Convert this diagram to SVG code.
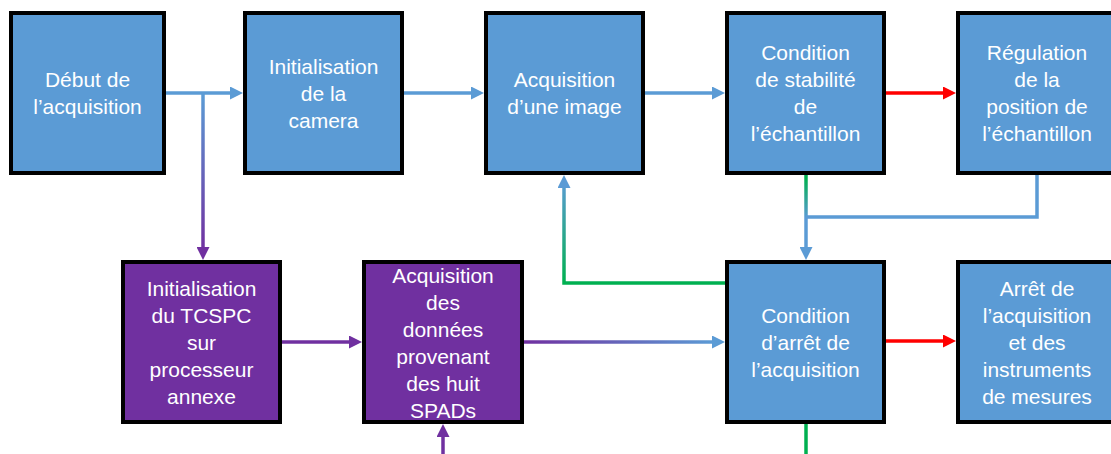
<svg xmlns="http://www.w3.org/2000/svg" width="1111" height="454" viewBox="0 0 1111 454">
<style>
.blue{fill:#5B9BD5;stroke:#000;stroke-width:4}
.purple{fill:#7030A0;stroke:#000;stroke-width:4}
text{font-family:"Liberation Sans",Arial,sans-serif;font-size:21px;fill:#fff;text-anchor:middle}
.c{fill:none;stroke-width:3.5}
</style>
<defs>
<marker id="aB" viewBox="0 0 13 13" refX="1" refY="6.5" markerWidth="13" markerHeight="13" markerUnits="userSpaceOnUse" orient="auto"><path d="M0,0L13,6.5L0,13z" fill="#5B9BD5"/></marker>
<marker id="aP" viewBox="0 0 13 13" refX="1" refY="6.5" markerWidth="13" markerHeight="13" markerUnits="userSpaceOnUse" orient="auto"><path d="M0,0L13,6.5L0,13z" fill="#7030A0"/></marker>
<marker id="aR" viewBox="0 0 13 13" refX="1" refY="6.5" markerWidth="13" markerHeight="13" markerUnits="userSpaceOnUse" orient="auto"><path d="M0,0L13,6.5L0,13z" fill="#FF0000"/></marker>
<linearGradient id="gBP" gradientUnits="userSpaceOnUse" x1="0" y1="95" x2="0" y2="250"><stop offset="0" stop-color="#5B9BD5"/><stop offset="1" stop-color="#7030A0"/></linearGradient>
<linearGradient id="gGB1" gradientUnits="userSpaceOnUse" x1="0" y1="178" x2="0" y2="218"><stop offset="0" stop-color="#00B050"/><stop offset="1" stop-color="#5B9BD5"/></linearGradient>
<linearGradient id="gGB2" gradientUnits="userSpaceOnUse" x1="0" y1="283" x2="0" y2="180"><stop offset="0" stop-color="#00B050"/><stop offset="1" stop-color="#5B9BD5"/></linearGradient>
<linearGradient id="gPB" gradientUnits="userSpaceOnUse" x1="524" y1="0" x2="714" y2="0"><stop offset="0" stop-color="#7030A0"/><stop offset="1" stop-color="#5B9BD5"/></linearGradient>
</defs>
<g id="connectors">
<path class="c" d="M166,93H231" stroke="#5B9BD5" marker-end="url(#aB)"/>
<path class="c" d="M203,93V248" stroke="url(#gBP)" marker-end="url(#aP)"/>
<path class="c" d="M404,93H472" stroke="#5B9BD5" marker-end="url(#aB)"/>
<path class="c" d="M645,93H713" stroke="#5B9BD5" marker-end="url(#aB)"/>
<path class="c" d="M886,93H944" stroke="#FF0000" marker-end="url(#aR)"/>
<path class="c" d="M806,175V248" stroke="url(#gGB1)" marker-end="url(#aB)"/>
<path class="c" d="M1037,175V217H806" stroke="#5B9BD5"/>
<path class="c" d="M725,283H564V187" stroke="url(#gGB2)" marker-end="url(#aB)"/>
<path class="c" d="M282,342H350" stroke="#7030A0" marker-end="url(#aP)"/>
<path class="c" d="M524,342H713" stroke="url(#gPB)" marker-end="url(#aB)"/>
<path class="c" d="M886,341H944" stroke="#FF0000" marker-end="url(#aR)"/>
<path class="c" d="M443,454V436" stroke="#7030A0" marker-end="url(#aP)"/>
<path class="c" d="M806,424V454" stroke="#00B050"/>
</g>
<g id="n1"><rect class="blue" x="11" y="13" width="153" height="160"/><text x="87.5" y="87">Début de</text><text x="87.5" y="114">l’acquisition</text></g>
<g id="n2"><rect class="blue" x="245" y="13" width="157" height="160"/><text x="323.5" y="74">Initialisation</text><text x="323.5" y="101">de la</text><text x="323.5" y="128">camera</text></g>
<g id="n3"><rect class="blue" x="486" y="13" width="157" height="160"/><text x="564.5" y="87">Acquisition</text><text x="564.5" y="114">d’une image</text></g>
<g id="n4"><rect class="blue" x="727" y="13" width="157" height="160"/><text x="805.5" y="60">Condition</text><text x="805.5" y="87">de stabilité</text><text x="805.5" y="114">de</text><text x="805.5" y="141">l’échantillon</text></g>
<g id="n5"><rect class="blue" x="958" y="13" width="157" height="160"/><text x="1037" y="60">Régulation</text><text x="1037" y="87">de la</text><text x="1037" y="114">position de</text><text x="1037" y="141">l’échantillon</text></g>
<g id="n6"><rect class="purple" x="123" y="262" width="157" height="160"/><text x="201.5" y="296">Initialisation</text><text x="201.5" y="323">du TCSPC</text><text x="201.5" y="350">sur</text><text x="201.5" y="377">processeur</text><text x="201.5" y="404">annexe</text></g>
<g id="n7"><rect class="purple" x="364" y="262" width="158" height="160"/><text x="443" y="283">Acquisition</text><text x="443" y="310">des</text><text x="443" y="337">données</text><text x="443" y="364">provenant</text><text x="443" y="391">des huit</text><text x="443" y="418">SPADs</text></g>
<g id="n8"><rect class="blue" x="727" y="262" width="157" height="160"/><text x="805.5" y="323">Condition</text><text x="805.5" y="350">d’arrêt de</text><text x="805.5" y="377">l’acquisition</text></g>
<g id="n9"><rect class="blue" x="958" y="262" width="157" height="160"/><text x="1037" y="296">Arrêt de</text><text x="1037" y="323">l’acquisition</text><text x="1037" y="350">et des</text><text x="1037" y="377">instruments</text><text x="1037" y="404">de mesures</text></g>
</svg>
